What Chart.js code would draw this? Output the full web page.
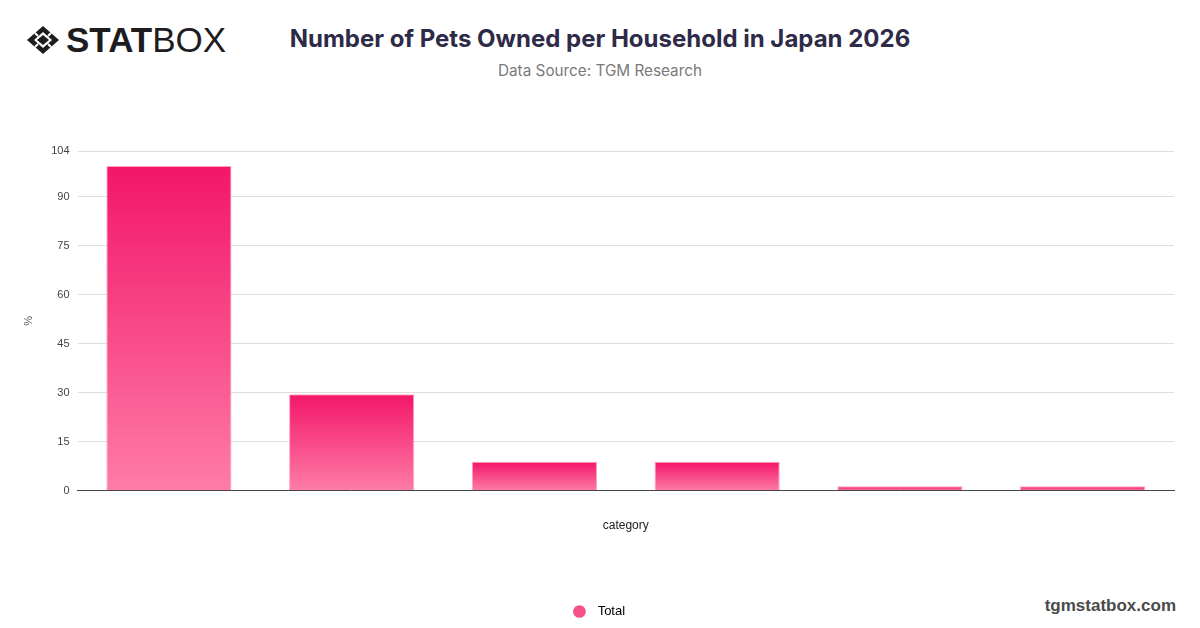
<!DOCTYPE html>
<html>
<head>
<meta charset="utf-8">
<script src="https://cdn.jsdelivr.net/npm/chart.js@4.4.1/dist/chart.umd.min.js"></script>
<style>
  body { margin: 0; background: #fff; width: 1200px; height: 628px; overflow: hidden; position: relative; font-family: Inter, "Noto Sans", sans-serif; }
  #logo { position: absolute; left: 26px; top: 22px; display: flex; align-items: center; }
  #logo .word { font-family: "Liberation Sans", Arial, sans-serif; font-size: 35px; color: #1d1d1f; line-height: 1; margin-left: 6px; }
  #logo .word b { font-weight: 900; }
  #logo .word span { font-weight: 300; }
  #title { position: absolute; left: 0; width: 1200px; top: 24px; text-align: center; font-size: 24px; font-weight: 700; color: #2e2b48; }
  #subtitle { position: absolute; left: 0; width: 1200px; top: 61px; text-align: center; font-size: 15.3px; color: #7a7a7a; }
  #footer { position: absolute; right: 24px; top: 596px; font-family: "Liberation Sans", Arial, sans-serif; font-weight: 700; font-size: 17px; color: #4a4a4a; }
  canvas { position: absolute; left: 0; top: 0; }
</style>
</head>
<body>
<div id="logo">
  <svg width="34" height="30" viewBox="0 0 34 30">
    <polygon points="17,1 33,15 17,29 1,15" fill="#1d1d1f"/>
    <polygon points="17,7 26,15 17,23 8,15" fill="#fff"/>
    <polygon points="17,10 23,15 17,20 11,15" fill="#1d1d1f"/>
    <line x1="9" y1="8" x2="12" y2="11" stroke="#fff" stroke-width="2"/>
    <line x1="25" y1="8" x2="22" y2="11" stroke="#fff" stroke-width="2"/>
    <line x1="9" y1="22" x2="12" y2="19" stroke="#fff" stroke-width="2"/>
    <line x1="25" y1="22" x2="22" y2="19" stroke="#fff" stroke-width="2"/>
  </svg>
  <div class="word"><b>STAT</b><span>BOX</span></div>
</div>
<div id="title">Number of Pets Owned per Household in Japan 2026</div>
<div id="subtitle">Data Source: TGM Research</div>
<div id="footer">tgmstatbox.com</div>
<canvas id="chart" width="1200" height="628"></canvas>
<script>
// hidden on the axis in the original, kept for the data
const categories = ["1", "2", "3", "4", "5", "6 or more"];
const totals = [99.4, 29.5, 8.8, 8.8, 1.3, 1.3];
const yTicks = [0, 15, 30, 45, 60, 75, 90, 104];

function barGradient(ctx) {
  const chart = ctx.chart;
  const y = chart.scales.y;
  if (!chart.chartArea || !y || ctx.type !== "data") return "#f7407e";
  const top = y.getPixelForValue(ctx.raw);
  const base = y.getPixelForValue(0);
  if (!isFinite(top) || base - top < 1) return "#f7407e";
  const g = chart.ctx.createLinearGradient(0, top, 0, base);
  g.addColorStop(0, "#f31669");
  g.addColorStop(1, "#fe7ca7");
  return g;
}

// legend sits in the middle of the whole picture, not the padded box
const centerLegend = {
  id: "centerLegend",
  beforeDraw(chart) {
    const lg = chart.legend;
    if (!lg) return;
    lg.left = 0;
    lg.right = chart.width;
    lg.width = chart.width;
  }
};

new Chart(document.getElementById("chart"), {
  type: "bar",
  data: {
    labels: categories,
    datasets: [{
      label: "Total",
      data: totals,
      backgroundColor: barGradient,
      borderColor: "#ffa3c4",
      borderWidth: 1,
      categoryPercentage: 0.685,
      barPercentage: 1
    }]
  },
  plugins: [centerLegend],
  options: {
    responsive: false,
    animation: false,
    layout: { padding: { left: 18, right: 26, top: 151, bottom: 0 } },
    plugins: {
      legend: {
        position: "bottom",
        labels: {
          usePointStyle: true,
          pointStyle: "circle",
          boxWidth: 9,
          boxHeight: 9,
          padding: 10,
          color: "#444",
          font: { family: "Liberation Sans", size: 13 },
          generateLabels: (chart) => [{
            text: "  Total",
            fillStyle: "#f5508a",
            strokeStyle: "#f5508a",
            lineWidth: 0,
            pointStyle: "circle",
            datasetIndex: 0
          }]
        }
      },
      tooltip: { enabled: false }
    },
    scales: {
      x: {
        grid: { display: false },
        border: { color: "#444", width: 1 },
        ticks: { display: false },
        title: {
          display: true,
          text: "category",
          color: "#222",
          font: { family: "Liberation Sans", size: 12 },
          padding: { top: 20, bottom: 62 }
        }
      },
      y: {
        min: 0,
        max: 104,
        afterBuildTicks: (axis) => { axis.ticks = yTicks.map(v => ({ value: v })); },
        grid: { color: "#dedede", drawTicks: false },
        border: { display: false },
        ticks: {
          padding: 8,
          color: "#444",
          font: { family: "Liberation Sans", size: 11 }
        },
        title: {
          display: true,
          text: "%",
          color: "#555",
          font: { family: "Liberation Sans", size: 11 },
          padding: { bottom: 8 }
        }
      }
    }
  }
});
</script>
</body>
</html>
